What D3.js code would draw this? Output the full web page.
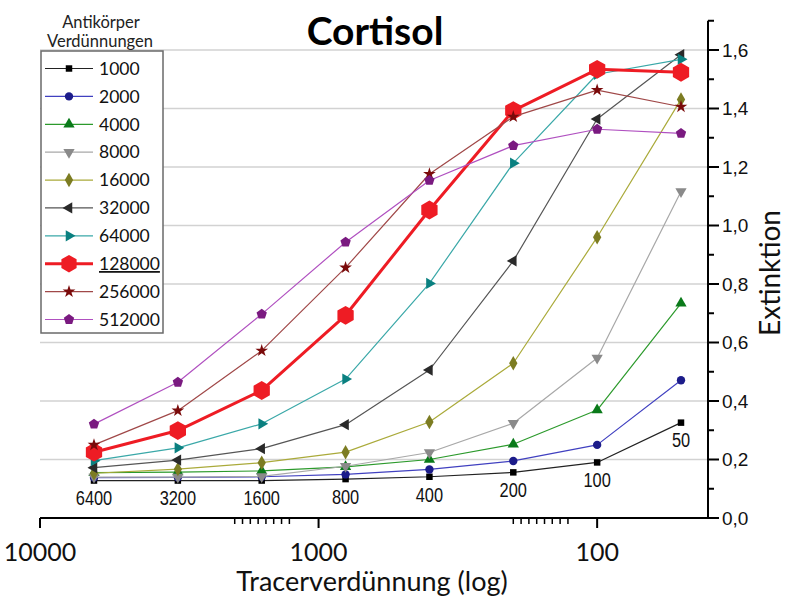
<!DOCTYPE html>
<html>
<head>
<meta charset="utf-8">
<script src="https://cdn.jsdelivr.net/npm/d3@7"></script>
<style>
  html, body { margin: 0; padding: 0; background: #fff; }
  svg { display: block; }
</style>
</head>
<body>
<svg id="chart" width="790" height="597"></svg>
<script>
// Tracer dilutions (x, log scale, reversed)
const dilutions = [6400, 3200, 1600, 800, 400, 200, 100, 50];

// Antibody dilutions (legend) and measured extinction per tracer dilution
const antibodyLabels = ["1000", "2000", "4000", "8000", "16000", "32000", "64000", "128000", "256000", "512000"];
const ext1000   = [0.128, 0.128, 0.128, 0.133, 0.141, 0.156, 0.190, 0.326];
const ext2000   = [0.138, 0.139, 0.141, 0.149, 0.166, 0.195, 0.250, 0.471];
const ext4000   = [0.155, 0.157, 0.161, 0.175, 0.200, 0.252, 0.369, 0.734];
const ext8000   = [0.140, 0.140, 0.142, 0.177, 0.224, 0.324, 0.547, 1.116];
const ext16000  = [0.153, 0.167, 0.189, 0.225, 0.328, 0.529, 0.960, 1.431];
const ext32000  = [0.172, 0.198, 0.237, 0.319, 0.506, 0.879, 1.364, 1.584];
const ext64000  = [0.196, 0.240, 0.322, 0.475, 0.802, 1.213, 1.517, 1.568];
const ext128000 = [0.225, 0.299, 0.436, 0.693, 1.053, 1.393, 1.534, 1.524];
const ext256000 = [0.250, 0.367, 0.572, 0.856, 1.176, 1.372, 1.463, 1.406];
const ext512000 = [0.321, 0.464, 0.697, 0.943, 1.154, 1.273, 1.329, 1.315];

// Axis ticks
const xMajorTicks = [10000, 1000, 100];
const xMinorTicks = [2000, 1875, 1758, 1648, 1545, 1449, 1358, 1273,
                     200, 187.5, 175.8, 164.8, 154.5, 144.9, 135.8, 127.3];
const yMajorTicks = [0, 0.2, 0.4, 0.6, 0.8, 1.0, 1.2, 1.4, 1.6];
const yMinorTicks = [0.1, 0.3, 0.5, 0.7, 0.9, 1.1, 1.3, 1.5, 1.7];

const seriesValues = [ext1000, ext2000, ext4000, ext8000, ext16000, ext32000, ext64000, ext128000, ext256000, ext512000];

// Custom marker shapes
const hexagon = {
  draw(ctx, size) {
    const r = Math.sqrt(size / (1.5 * Math.sqrt(3)));
    for (let i = 0; i < 6; i++) {
      const a = Math.PI / 6 + i * Math.PI / 3;
      const px = r * Math.cos(a), py = r * Math.sin(a);
      if (i === 0) ctx.moveTo(px, py); else ctx.lineTo(px, py);
    }
    ctx.closePath();
  }
};
const pentagon = {
  draw(ctx, size) {
    const r = Math.sqrt(size / 2.3776);
    for (let i = 0; i < 5; i++) {
      const a = -Math.PI / 2 + i * 2 * Math.PI / 5;
      const px = r * Math.cos(a), py = r * Math.sin(a);
      if (i === 0) ctx.moveTo(px, py); else ctx.lineTo(px, py);
    }
    ctx.closePath();
  }
};

// Per-series styling
const styles = [
  { line: "#222222", fill: "#000000", sym: d3.symbolSquare,   size: 42,  rot: 0,   w: 1.2 },
  { line: "#4040c0", fill: "#1c1c8a", sym: d3.symbolCircle,   size: 55,  rot: 0,   w: 1.2 },
  { line: "#2c9a2c", fill: "#0a7a1a", sym: d3.symbolTriangle, size: 55,  rot: 0,   w: 1.2 },
  { line: "#a8a8a8", fill: "#8a8a8a", sym: d3.symbolTriangle, size: 55,  rot: 180, w: 1.2 },
  { line: "#aaaa3a", fill: "#7c7c22", sym: d3.symbolDiamond,  size: 60,  rot: 0,   w: 1.2 },
  { line: "#555555", fill: "#2a2a2a", sym: d3.symbolTriangle, size: 55,  rot: -90, w: 1.2 },
  { line: "#3aa8a8", fill: "#0a8080", sym: d3.symbolTriangle, size: 55,  rot: 90,  w: 1.2 },
  { line: "#ee1c24", fill: "#ee1c24", sym: hexagon,           size: 230, rot: 0,   w: 3.0 },
  { line: "#a04848", fill: "#7a0a0a", sym: d3.symbolStar,     size: 50,  rot: 0,   w: 1.2 },
  { line: "#b050c0", fill: "#7a1a80", sym: pentagon,          size: 70,  rot: 0,   w: 1.2 }
];

const svg = d3.select("#chart");

const x = d3.scaleLog().domain([10000, 40]).range([40, 708]);
const y = d3.scaleLinear().domain([0, 1.7]).range([518, 20.75]);

// Horizontal grid lines
svg.append("g")
  .selectAll("line")
  .data(yMajorTicks.filter(v => v > 0))
  .join("line")
  .attr("x1", x(10000)).attr("x2", x(40))
  .attr("y1", d => y(d)).attr("y2", d => y(d))
  .attr("stroke", "#d2d2d2").attr("stroke-width", 1.5);

// Series lines and markers
const lineGen = d3.line().x((d, i) => x(dilutions[i])).y(d => y(d));
const plot = svg.append("g");
seriesValues.forEach((vals, k) => {
  const st = styles[k];
  const g = plot.append("g");
  g.append("path")
    .attr("d", lineGen(vals))
    .attr("fill", "none")
    .attr("stroke", st.line)
    .attr("stroke-width", st.w)
    .attr("stroke-linejoin", "round");
  g.selectAll("path.m")
    .data(vals)
    .join("path")
    .attr("class", "m")
    .attr("d", d3.symbol().type(st.sym).size(st.size))
    .attr("transform", (d, i) => `translate(${x(dilutions[i])},${y(d)}) rotate(${st.rot})`)
    .attr("fill", st.fill);
});

// Dilution labels below the lowest curve (condensed digits)
svg.append("g")
  .selectAll("text")
  .data(dilutions)
  .join("text")
  .attr("x", d => x(d))
  .attr("y", (d, i) => y(ext1000[i]) + 18)
  .attr("dy", "0.35em")
  .attr("text-anchor", "middle")
  .attr("font-family", "Liberation Sans, Arial, sans-serif")
  .attr("font-size", 19.5)
  .attr("fill", "#111")
  .text(d => d)
  .each(function () {
    const w = this.getComputedTextLength();
    d3.select(this)
      .attr("textLength", w * 0.84)
      .attr("lengthAdjust", "spacingAndGlyphs");
  });

// X axis
const xAxisG = svg.append("g");
xAxisG.append("line")
  .attr("x1", x(10000)).attr("x2", x(40))
  .attr("y1", y(0)).attr("y2", y(0))
  .attr("stroke", "#000").attr("stroke-width", 2);
xAxisG.selectAll("line.major")
  .data(xMajorTicks)
  .join("line").attr("class", "major")
  .attr("x1", d => x(d)).attr("x2", d => x(d))
  .attr("y1", y(0)).attr("y2", y(0) + 10)
  .attr("stroke", "#000").attr("stroke-width", 2);
xAxisG.selectAll("line.minor")
  .data(xMinorTicks)
  .join("line").attr("class", "minor")
  .attr("x1", d => x(d)).attr("x2", d => x(d))
  .attr("y1", y(0)).attr("y2", y(0) + 6)
  .attr("stroke", "#000").attr("stroke-width", 1.5);
xAxisG.selectAll("text")
  .data(xMajorTicks)
  .join("text")
  .attr("x", d => x(d))
  .attr("y", y(0) + 43)
  .attr("text-anchor", "middle")
  .attr("font-family", "Lato, sans-serif")
  .attr("font-size", 25)
  .attr("fill", "#111")
  .text(d => d);
svg.append("text")
  .attr("x", 372).attr("y", 591)
  .attr("text-anchor", "middle")
  .attr("font-family", "Lato, sans-serif")
  .attr("font-size", 27)
  .attr("fill", "#111")
  .text("Tracerverdünnung (log)");

// Y axis (right side)
const yAxisG = svg.append("g");
yAxisG.append("line")
  .attr("x1", x(40)).attr("x2", x(40))
  .attr("y1", y(0) + 1).attr("y2", y(1.7))
  .attr("stroke", "#000").attr("stroke-width", 2);
yAxisG.selectAll("line.major")
  .data(yMajorTicks)
  .join("line").attr("class", "major")
  .attr("x1", x(40)).attr("x2", x(40) + 11)
  .attr("y1", d => y(d)).attr("y2", d => y(d))
  .attr("stroke", "#000").attr("stroke-width", 2);
yAxisG.selectAll("line.minor")
  .data(yMinorTicks)
  .join("line").attr("class", "minor")
  .attr("x1", x(40)).attr("x2", x(40) + 6)
  .attr("y1", d => y(d)).attr("y2", d => y(d))
  .attr("stroke", "#000").attr("stroke-width", 2);
yAxisG.selectAll("text")
  .data(yMajorTicks)
  .join("text")
  .attr("x", x(40) + 14)
  .attr("y", d => y(d))
  .attr("dy", "0.35em")
  .attr("font-family", "Liberation Sans, Arial, sans-serif")
  .attr("font-size", 19)
  .attr("fill", "#111")
  .text(d => d.toFixed(1).replace(".", ","));
svg.append("text")
  .attr("transform", "translate(780,273) rotate(-90)")
  .attr("text-anchor", "middle")
  .attr("font-family", "Lato, sans-serif")
  .attr("font-size", 28)
  .attr("fill", "#111")
  .text("Extinktion");

// Title
svg.append("text")
  .attr("x", 375).attr("y", 45)
  .attr("text-anchor", "middle")
  .attr("font-family", "Lato, sans-serif")
  .attr("font-weight", "bold")
  .attr("font-size", 39)
  .attr("fill", "#000")
  .text("Cortisol");

// Legend
const legend = svg.append("g");
legend.append("text")
  .attr("x", 101).attr("y", 28)
  .attr("text-anchor", "middle")
  .attr("font-family", "Lato, sans-serif")
  .attr("font-size", 16.5)
  .attr("fill", "#222")
  .text("Antikörper");
legend.append("text")
  .attr("x", 100).attr("y", 47)
  .attr("text-anchor", "middle")
  .attr("font-family", "Lato, sans-serif")
  .attr("font-size", 16.5)
  .attr("fill", "#222")
  .text("Verdünnungen");
legend.append("rect")
  .attr("x", 41).attr("y", 51)
  .attr("width", 122).attr("height", 282)
  .attr("fill", "#fff")
  .attr("stroke", "#6a6a6a").attr("stroke-width", 1.5);
const rowY = d3.scalePoint().domain(antibodyLabels).range([68.5, 319.5]);
antibodyLabels.forEach((lab, k) => {
  const st = styles[k];
  const yy = rowY(lab);
  legend.append("line")
    .attr("x1", 45).attr("x2", 93)
    .attr("y1", yy).attr("y2", yy)
    .attr("stroke", st.line).attr("stroke-width", st.w);
  legend.append("path")
    .attr("d", d3.symbol().type(st.sym).size(k === 7 ? 200 : st.size)())
    .attr("transform", `translate(69,${yy}) rotate(${st.rot})`)
    .attr("fill", st.fill);
  legend.append("text")
    .attr("x", 99).attr("y", yy)
    .attr("dy", "0.36em")
    .attr("font-family", "Lato, sans-serif")
    .attr("font-size", 17.5)
    .attr("fill", "#111")
    .attr("text-decoration", lab === "128000" ? "underline" : null)
    .text(lab);
});
</script>
</body>
</html>
